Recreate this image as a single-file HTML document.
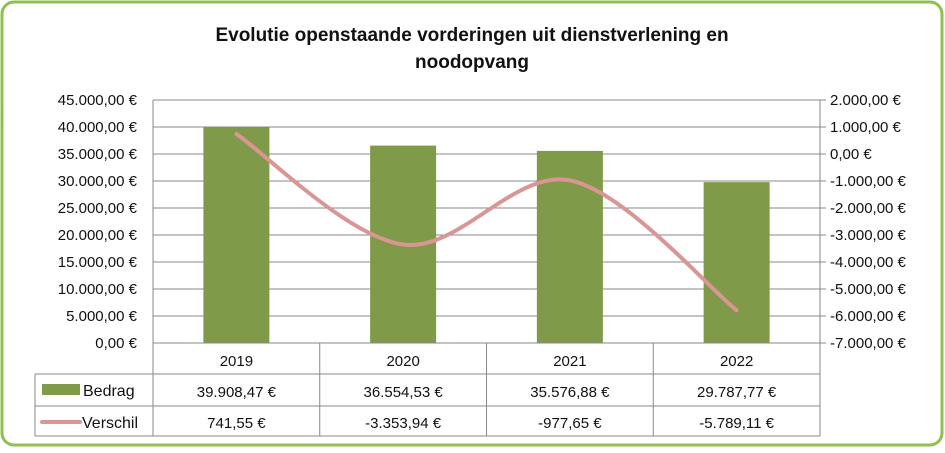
<!DOCTYPE html>
<html><head><meta charset="utf-8"><style>
body{margin:0;background:#fff;}
svg text{font-family:"Liberation Sans",sans-serif;}
</style></head><body>
<svg id="c" width="945" height="448" xmlns="http://www.w3.org/2000/svg">
<rect x="2" y="2" width="940" height="443" rx="12" fill="#fff" stroke="#8fbf50" stroke-width="3"/>
<text x="472" y="41" text-anchor="middle" font-size="19" font-weight="bold" fill="#111">Evolutie openstaande vorderingen uit dienstverlening en</text>
<text x="472" y="68" text-anchor="middle" font-size="19" font-weight="bold" fill="#111">noodopvang</text>
<g id="g"></g>
</svg>
<script>
const categories=["2019","2020","2021","2022"];
const bedrag=[39908.47,36554.53,35576.88,29787.77];
const verschil=[741.55,-3353.94,-977.65,-5789.11];
const bedragLabels=["39.908,47 €","36.554,53 €","35.576,88 €","29.787,77 €"];
const verschilLabels=["741,55 €","-3.353,94 €","-977,65 €","-5.789,11 €"];
const leftTicks=[0,5000,10000,15000,20000,25000,30000,35000,40000,45000];
const rightTicks=[-7000,-6000,-5000,-4000,-3000,-2000,-1000,0,1000,2000];
const L=153,R=820,T=100,B=343;
const yL=v=>B-(v/45000)*(B-T);
const yR=v=>B-((v+7000)/9000)*(B-T);
const cw=(R-L)/categories.length;
const xC=i=>L+cw*(i+0.5);
const NS="http://www.w3.org/2000/svg";
const g=document.getElementById('g');
function mk(t,a,txt){const e=document.createElementNS(NS,t);for(const k in a)e.setAttribute(k,a[k]);if(txt!==undefined)e.textContent=txt;g.appendChild(e);return e;}
const fmt=v=>{const s=Math.abs(v).toFixed(2).split('.');return (v<0?'-':'')+s[0].replace(/\B(?=(\d{3})+(?!\d))/g,'.')+','+s[1]+' €';};
leftTicks.forEach(v=>{const y=yL(v);
 const l=mk('line',{x1:L,x2:R,y1:y,y2:y,stroke:'#888','stroke-width':1});
 
 const t=mk('text',{x:L-16,y:y+5,'text-anchor':'end','font-size':15,fill:'#111'},fmt(v));
 });
rightTicks.forEach(v=>{const y=yR(v);
 const l=mk('line',{x1:R,x2:R+6,y1:y,y2:y,stroke:'#888'});
 
 const t=mk('text',{x:R+10,y:y+5,'font-size':15,fill:'#111'},fmt(v));
 });
const ax=mk('line',{x1:R,x2:R,y1:T,y2:B,stroke:'#888'});
const ax2=mk('line',{x1:L,x2:L,y1:T,y2:B,stroke:'#888'});
bedrag.forEach((v,i)=>{const r=mk('rect',{x:xC(i)-33,y:yL(v),width:66,height:B-yL(v),fill:'#7f9a48'});
 });
const pts=verschil.map((v,i)=>[xC(i),yR(v)]);
let d='M'+pts[0][0]+','+pts[0][1];
for(let i=0;i<pts.length-1;i++){const p0=pts[Math.max(0,i-1)],p1=pts[i],p2=pts[i+1],p3=pts[Math.min(pts.length-1,i+2)];
 const c1=[p1[0]+(p2[0]-p0[0])/6,p1[1]+(p2[1]-p0[1])/6],c2=[p2[0]-(p3[0]-p1[0])/6,p2[1]-(p3[1]-p1[1])/6];
 d+=` C${c1[0]},${c1[1]} ${c2[0]},${c2[1]} ${p2[0]},${p2[1]}`;}
const ln=mk('path',{d:d,fill:'none',stroke:'#d99694','stroke-width':4,'stroke-linecap':'round'});

// table
const TL=35,r1=343,r2=374,r3=406,r4=436;
const tb=[[L,r1,R,r1],[L,r1,L,r4],[TL,r2,R,r2],[TL,r3,R,r3],[TL,r4,R,r4],[TL,r2,TL,r4],[R,r1,R,r4]];
categories.forEach((c,i)=>tb.push([L+cw*(i+1),r1,L+cw*(i+1),r4]));
tb.forEach(a=>{const l=mk('line',{x1:a[0],y1:a[1],x2:a[2],y2:a[3],stroke:'#888'});});
categories.forEach((c,i)=>{
 let t=mk('text',{x:xC(i),y:r1+23,'text-anchor':'middle','font-size':15,fill:'#111'},c);
 t=mk('text',{x:xC(i),y:r2+23,'text-anchor':'middle','font-size':15,fill:'#111'},bedragLabels[i]);
 t=mk('text',{x:xC(i),y:r3+22,'text-anchor':'middle','font-size':15,fill:'#111'},verschilLabels[i]);});
let k=mk('rect',{x:42,y:r2+10,width:38,height:11,fill:'#7f9a48'});
k=mk('line',{x1:42,x2:80,y1:r3+16,y2:r3+16,stroke:'#d99694','stroke-width':4,'stroke-linecap':'round'});
k=mk('text',{x:83,y:r2+22,'font-size':16,fill:'#111'},'Bedrag');
k=mk('text',{x:82,y:r3+22,'font-size':16,fill:'#111'},'Verschil');
</script>
</body></html>
